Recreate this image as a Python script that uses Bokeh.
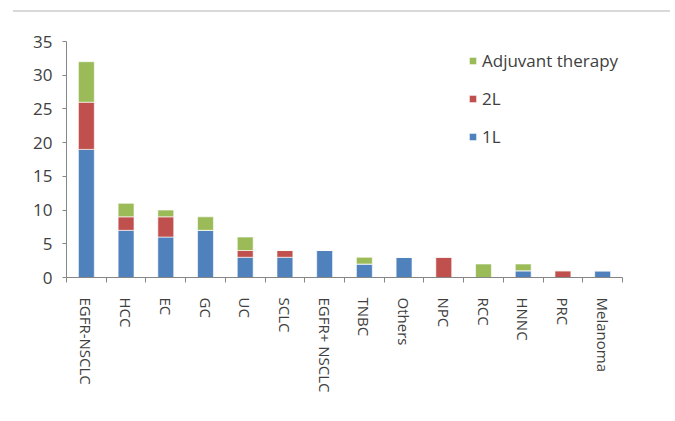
from bokeh.plotting import figure
from bokeh.layouts import column
from bokeh.models import (ColumnDataSource, FixedTicker, Legend, LegendItem,
                          Range1d, Div)
from bokeh.embed import file_html
from bokeh.resources import INLINE

# Number of agents per indication, split by line of therapy
indications = ["EGFR-NSCLC", "HCC", "EC", "GC", "UC", "SCLC", "EGFR+ NSCLC",
               "TNBC", "Others", "NPC", "RCC", "HNNC", "PRC", "Melanoma"]
first_line = [19, 7, 6, 7, 3, 3, 4, 2, 3, 0, 0, 1, 0, 1]
second_line = [7, 2, 3, 0, 1, 1, 0, 0, 0, 3, 0, 0, 1, 0]
adjuvant = [6, 2, 1, 2, 2, 0, 0, 1, 0, 0, 2, 1, 0, 0]

series = ["1L", "2L", "Adjuvant therapy"]
colors = ["#4F81BD", "#C0504D", "#9BBB59"]
y_ticks = [0, 5, 10, 15, 20, 25, 30, 35]

FONT = "Open Sans"
TEXT = "#404040"
AXIS = "#868686"

pos = list(range(len(indications)))
source = ColumnDataSource(dict(x=pos, l1=first_line, l2=second_line, adj=adjuvant))

p = figure(width=675, height=409, output_backend="svg", toolbar_location=None,
           x_range=Range1d(-0.5, len(indications) - 0.5), y_range=Range1d(0, 35),
           min_border_left=66, min_border_right=53, min_border_top=29,
           min_border_bottom=144, margin=(0, 0, 0, 0))
p.outline_line_color = None
p.xgrid.grid_line_color = None
p.ygrid.grid_line_color = None
p.background_fill_color = "white"
p.border_fill_color = "white"

renderers = p.vbar_stack(["l1", "l2", "adj"], x="x", width=0.4, source=source,
                         color=colors, line_color="white", line_width=0.6)

# y axis
p.yaxis.ticker = FixedTicker(ticks=y_ticks)
p.yaxis.axis_line_color = AXIS
p.yaxis.major_tick_line_color = AXIS
p.yaxis.major_tick_out = 4
p.yaxis.major_tick_in = 0
p.yaxis.minor_tick_line_color = None
p.yaxis.major_label_standoff = 10
p.yaxis.major_label_text_font = FONT
p.yaxis.major_label_text_font_size = "17px"
p.yaxis.major_label_text_color = TEXT

# x axis: labels at bar centres, tick marks between categories
p.xaxis.ticker = FixedTicker(ticks=pos,
                             minor_ticks=[i - 0.5 for i in range(len(indications) + 1)])
p.xaxis.major_label_overrides = {i: name for i, name in enumerate(indications)}
p.xaxis.major_label_orientation = "vertical"
p.xaxis.axis_line_color = AXIS
p.xaxis.major_tick_line_color = None
p.xaxis.minor_tick_line_color = AXIS
p.xaxis.minor_tick_out = 5
p.xaxis.minor_tick_in = 0
p.xaxis.major_label_standoff = 14
p.xaxis.major_label_text_font = FONT
p.xaxis.major_label_text_font_size = "15px"
p.xaxis.major_label_text_color = TEXT

# legend, top series first
items = [LegendItem(label=series[i], renderers=[renderers[i]]) for i in (2, 1, 0)]
legend = Legend(items=items, location=(402, 129), orientation="vertical",
                glyph_width=9, glyph_height=9, label_height=20, spacing=15,
                label_standoff=5, padding=0, margin=0,
                label_text_font=FONT, label_text_font_size="17px",
                label_text_color=TEXT, background_fill_alpha=0,
                border_line_color=None)
p.add_layout(legend)

# thin rule across the top of the panel
rule = Div(text="", width=657, height=2, margin=(10, 5, 0, 13),
           styles={"background-color": "#d9d9d9"})

open("out.html", "w").write(file_html(column(rule, p, spacing=0), INLINE))
